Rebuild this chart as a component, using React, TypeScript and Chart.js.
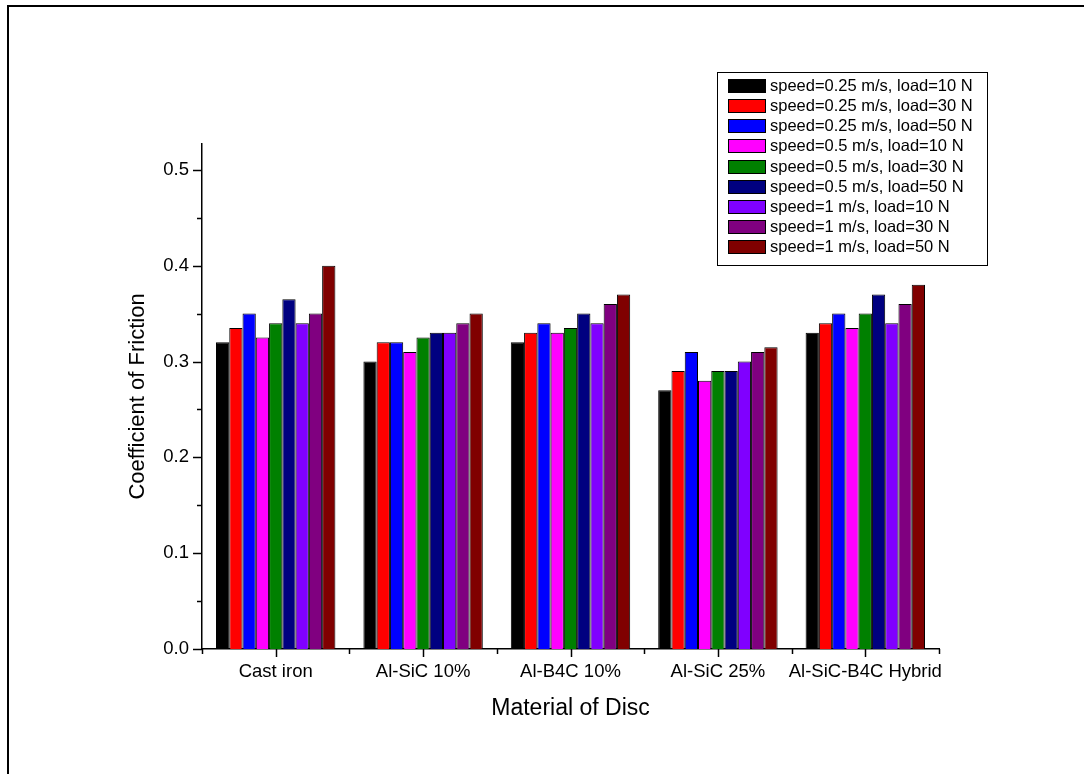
import React, { useEffect, useRef } from "react";
import { Chart, registerables } from "chart.js";

Chart.register(...registerables);

const categories = ["Cast iron", "Al-SiC 10%", "Al-B4C 10%", "Al-SiC 25%", "Al-SiC-B4C Hybrid"];

const seriesLabels = [
  "speed=0.25 m/s, load=10 N",
  "speed=0.25 m/s, load=30 N",
  "speed=0.25 m/s, load=50 N",
  "speed=0.5 m/s, load=10 N",
  "speed=0.5 m/s, load=30 N",
  "speed=0.5 m/s, load=50 N",
  "speed=1 m/s, load=10 N",
  "speed=1 m/s, load=30 N",
  "speed=1 m/s, load=50 N",
];

const seriesColors = ["#000000", "#FF0000", "#0000FF", "#FF00FF", "#008000", "#000080", "#8000FF", "#800080", "#800000"];

const speed025Load10 = [0.32, 0.3, 0.32, 0.27, 0.33];
const speed025Load30 = [0.335, 0.32, 0.33, 0.29, 0.34];
const speed025Load50 = [0.35, 0.32, 0.34, 0.31, 0.35];
const speed05Load10 = [0.325, 0.31, 0.33, 0.28, 0.335];
const speed05Load30 = [0.34, 0.325, 0.335, 0.29, 0.35];
const speed05Load50 = [0.365, 0.33, 0.35, 0.29, 0.37];
const speed1Load10 = [0.34, 0.33, 0.34, 0.3, 0.34];
const speed1Load30 = [0.35, 0.34, 0.36, 0.31, 0.36];
const speed1Load50 = [0.4, 0.35, 0.37, 0.315, 0.38];

const seriesValues = [
  speed025Load10, speed025Load30, speed025Load50,
  speed05Load10, speed05Load30, speed05Load50,
  speed1Load10, speed1Load30, speed1Load50,
];

const yMin = 0;
const yMax = 0.527;
const yMajorStep = 0.1;
const yMinorStep = 0.05;

const FONT = "Arial, 'Liberation Sans', sans-serif";

const tickPlugin = {
  id: "originTicks",
  afterDraw(chart: any) {
    const ctx = chart.ctx;
    const y = chart.scales.y;
    const x = chart.scales.x;
    ctx.save();
    ctx.strokeStyle = "#000";
    ctx.lineWidth = 1.5;
    for (let v = yMin; v <= yMax + 1e-9; v += yMinorStep) {
      const major = Math.abs(v / yMajorStep - Math.round(v / yMajorStep)) < 1e-6;
      const py = Math.round(y.getPixelForValue(v)) + 0.5;
      ctx.beginPath();
      ctx.moveTo(y.right, py);
      ctx.lineTo(y.right - (major ? 9 : 5), py);
      ctx.stroke();
    }
    const n = categories.length;
    for (let i = 0; i < n; i++) {
      const px = Math.round(x.getPixelForValue(i)) + 0.5;
      ctx.beginPath();
      ctx.moveTo(px, x.top);
      ctx.lineTo(px, x.top + 8);
      ctx.stroke();
    }
    for (let i = 0; i <= n; i++) {
      let px;
      if (i === 0) px = x.left;
      else if (i === n) px = x.right;
      else px = (x.getPixelForValue(i - 1) + x.getPixelForValue(i)) / 2;
      px = Math.round(px) + 0.5;
      ctx.beginPath();
      ctx.moveTo(px, x.top);
      ctx.lineTo(px, x.top + 5);
      ctx.stroke();
    }
    ctx.restore();
  },
};

const legendPlugin = {
  id: "boxLegend",
  afterDraw(chart: any) {
    const ctx = chart.ctx;
    const bx = 717.5, by = 72.5, bw = 270, bh = 193;
    ctx.save();
    ctx.fillStyle = "#fff";
    ctx.fillRect(bx, by, bw, bh);
    ctx.strokeStyle = "#000";
    ctx.lineWidth = 1;
    ctx.strokeRect(bx, by, bw, bh);
    ctx.font = `16.5px ${FONT}`;
    ctx.textBaseline = "middle";
    ctx.textAlign = "left";
    chart.data.datasets.forEach((ds: any, i: number) => {
      const cy = 85.5 + i * 20.15;
      ctx.fillStyle = ds.backgroundColor;
      ctx.fillRect(728.5, Math.round(cy - 6.5) + 0.5, 37, 13);
      ctx.strokeRect(728.5, Math.round(cy - 6.5) + 0.5, 37, 13);
      ctx.fillStyle = "#000";
      ctx.fillText(ds.label, 770, cy + 1);
    });
    ctx.restore();
  },
};

export default function App() {
  const ref = useRef<HTMLCanvasElement>(null);
  useEffect(() => {
    if (!ref.current) return;
    const chart = new Chart(ref.current, {
      type: "bar",
      data: {
        labels: categories,
        datasets: seriesLabels.map((label, i) => ({
          label,
          data: seriesValues[i],
          backgroundColor: seriesColors[i],
          borderColor: "#000",
          borderWidth: 1,
          categoryPercentage: 0.81,
          barPercentage: 1.0,
        })),
      },
      options: {
        animation: false,
        responsive: false,
        devicePixelRatio: 1,
        layout: { padding: { left: 120, top: 144, right: 145, bottom: 0 } },
        plugins: { legend: { display: false }, tooltip: { enabled: false } },
        scales: {
          x: {
            grid: { display: false, drawTicks: false },
            border: { display: true, color: "#000", width: 1.5 },
            ticks: { color: "#000", font: { family: FONT, size: 18.5 }, padding: 12, maxRotation: 0, autoSkip: false },
            title: { display: true, text: "Material of Disc", color: "#000", font: { family: FONT, size: 23 }, padding: { top: 0, bottom: 52 } },
            afterFit: (s: any) => { s.height = 125; },
          },
          y: {
            min: yMin,
            max: yMax,
            grid: { display: false, drawTicks: false },
            border: { display: true, color: "#000", width: 1.5 },
            ticks: {
              stepSize: yMajorStep,
              includeBounds: false,
              color: "#000",
              font: { family: FONT, size: 18.5 },
              padding: 13,
              callback: (v: any) => Number(v).toFixed(1),
            },
            title: { display: true, text: "Coefficient of Friction", color: "#000", font: { family: FONT, size: 22 }, padding: { top: 5, bottom: 0 } },
            afterFit: (s: any) => { s.width = 82; },
          },
        },
      },
      plugins: [tickPlugin, legendPlugin],
    });
    return () => chart.destroy();
  }, []);

  return (
    <div style={{ position: "fixed", left: 0, top: 0, width: 1084, height: 774, background: "#fff" }}>
      <canvas ref={ref} width={1084} height={774} style={{ position: "absolute", left: 0, top: 0, width: 1084, height: 774 }} />
      <div style={{ position: "absolute", left: 7, top: 5, right: 0, bottom: 0, borderTop: "2px solid #000", borderLeft: "2px solid #000", pointerEvents: "none" }} />
    </div>
  );
}
